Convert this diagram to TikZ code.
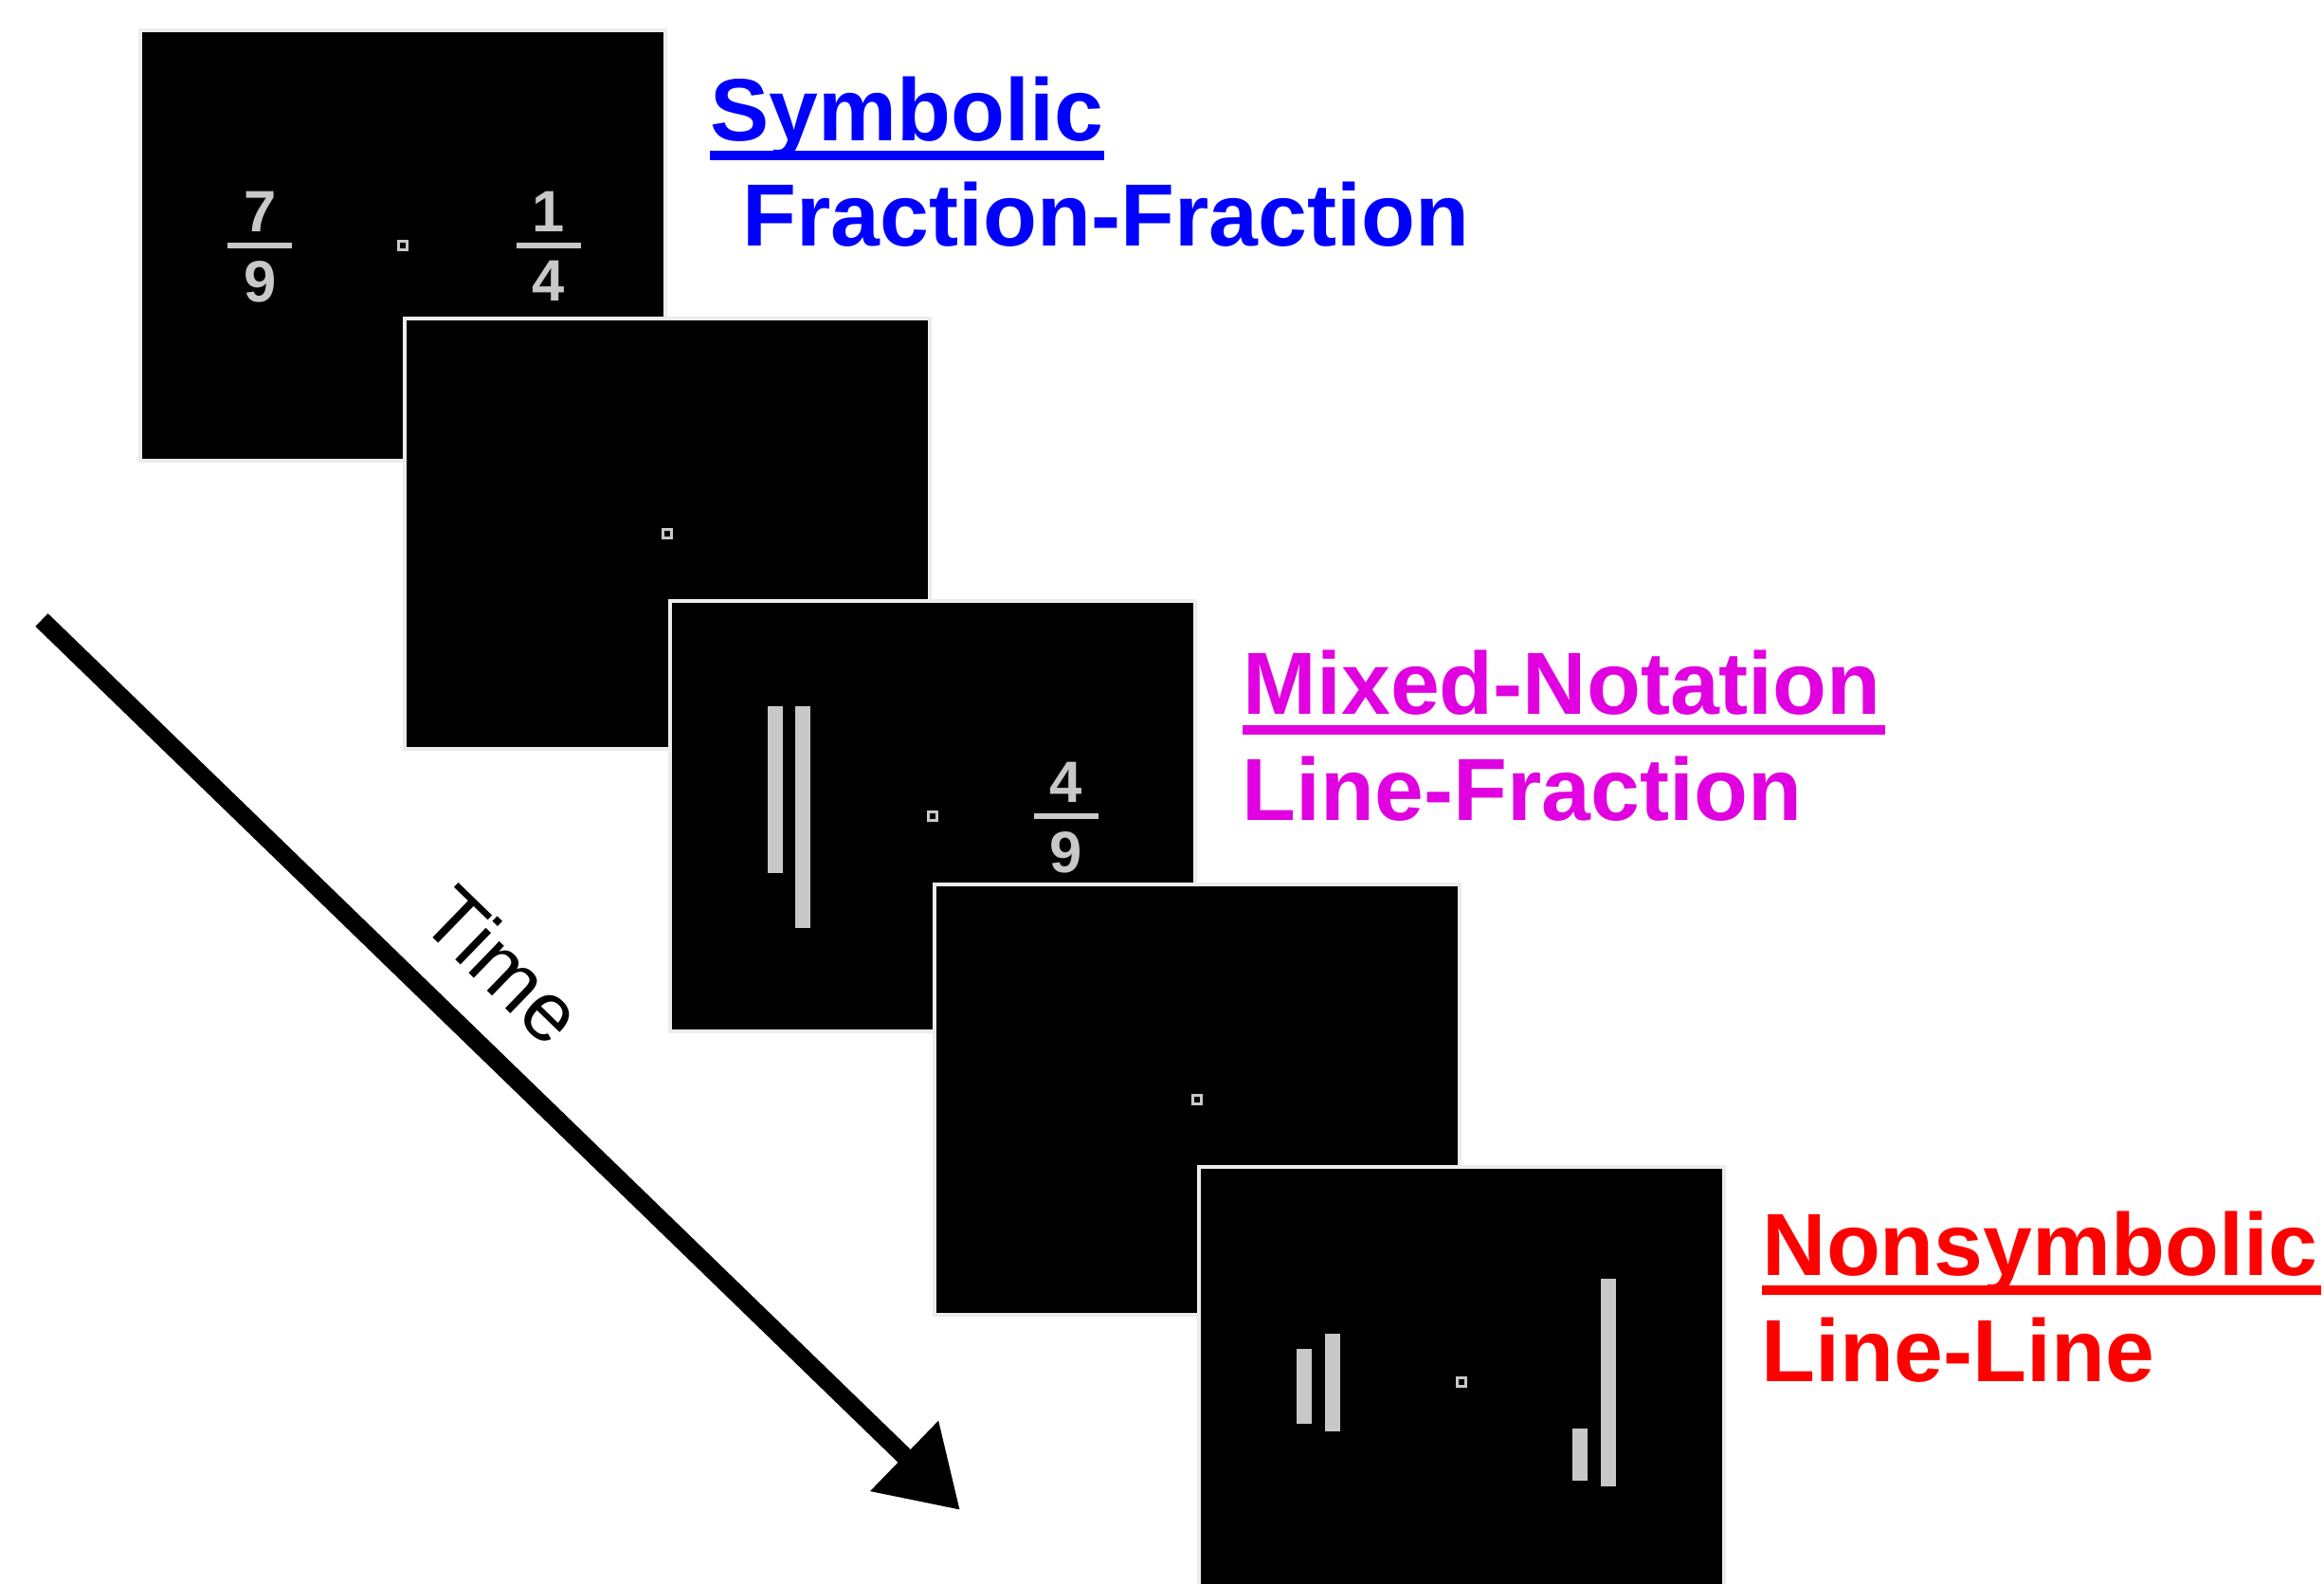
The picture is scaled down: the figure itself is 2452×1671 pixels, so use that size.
\documentclass[tikz,border=0pt]{standalone}
\usepackage{fontspec}
\setmainfont{Liberation Sans}
\usetikzlibrary{positioning,arrows.meta}
\definecolor{symb}{RGB}{0,0,255}
\definecolor{mixd}{RGB}{224,0,224}
\definecolor{nons}{RGB}{255,0,0}
\definecolor{stim}{RGB}{200,200,200}
\definecolor{rim}{RGB}{236,236,236}

\begin{document}
\begin{tikzpicture}[x=0.01cm,y=-0.01cm,
  screen/.style={fill=black,draw=rim,line width=0.35mm,minimum width=5.54cm,minimum height=4.54cm,inner sep=0},
  fix/.style={draw=stim,fill=black,line width=0.22mm,minimum size=0.9mm,inner sep=0},
  fbar/.style={fill=stim,minimum width=6.8mm,minimum height=0.65mm,inner sep=0},
  digit/.style={text=stim,inner sep=0,font=\fontsize{17.5}{17.5}\selectfont\bfseries},
  cond/.style={anchor=base west,inner sep=0,font=\fontsize{26.5}{30}\selectfont\bfseries},
  uline/.style={line width=1.05mm}]
  \useasboundingbox (0,0) rectangle (2452,1671);
  \clip (0,0) rectangle (2452,1671);

  \node[screen] (s1) at (425,259) {};
  \node[fix] at (s1.center) {};
  \node[fbar] (f1) at ([xshift=-15.05mm]s1.center) {};
  \node[digit,above=1mm of f1] {7};
  \node[digit,below=1.2mm of f1] {9};
  \node[fbar] (f2) at ([xshift=15.4mm]s1.center) {};
  \node[digit,above=1mm of f2] {1};
  \node[digit,below=1.2mm of f2] {4};

  \node[screen] (s2) at (704,563) {};
  \node[fix] at (s2.center) {};

  \node[screen] (s3) at (984,861) {};
  \node[fix] at (s3.center) {};
  \begin{scope}[shift={(s3.center)}]
    \fill[stim] (-174,-116) rectangle (-158,60);
    \fill[stim] (-145,-116) rectangle (-129,118);
  \end{scope}
  \node[fbar] (f3) at ([xshift=14.05mm]s3.center) {};
  \node[digit,above=1mm of f3] {4};
  \node[digit,below=1.2mm of f3] {9};

  \node[screen] (s4) at (1263,1160) {};
  \node[fix] at (s4.center) {};

  \node[screen] (s5) at (1542,1458) {};
  \node[fix] at (s5.center) {};
  \begin{scope}[shift={(s5.center)}]
    \fill[stim] (-174,-35) rectangle (-158,44);
    \fill[stim] (-144,-51) rectangle (-128,52);
    \fill[stim] (117,49) rectangle (133,104);
    \fill[stim] (147,-109) rectangle (163,110);
  \end{scope}

  \node[cond,text=symb] (sym) at (749,149) {Symbolic};
  \node[cond,text=symb] (symff) at (783,260) {Fraction-Fraction};
  \draw[uline,symb] ([yshift=-1.5mm]sym.base west) -- ([yshift=-1.5mm]sym.base east);

  \node[cond,text=mixd] (mix) at (1311,754) {Mixed-Notation};
  \node[cond,text=mixd] (mixlf) at (1310,866) {Line-Fraction};
  \draw[uline,mixd] ([yshift=-1.6mm]mix.base west) -- ([yshift=-1.6mm,xshift=0.4mm]mix.base east);

  \node[cond,text=nons] (non) at (1859,1345) {Nonsymbolic};
  \node[cond,text=nons] (nonll) at (1858,1457) {Line-Line};
  \draw[uline,nons] ([yshift=-1.6mm]non.base west) -- ([yshift=-1.6mm,xshift=0.3mm]non.base east);

  \coordinate (t0) at (44,654);
  \coordinate (t1) at (1013,1593);
  \draw[line width=1.9mm,-{Triangle[length=8.2mm,width=9.8mm]}] (t0) -- (t1)
    node[pos=0.447,sloped,above=3.6mm,inner sep=0,font=\fontsize{25}{25}\selectfont] (time) {Time};
\end{tikzpicture}
\end{document}
